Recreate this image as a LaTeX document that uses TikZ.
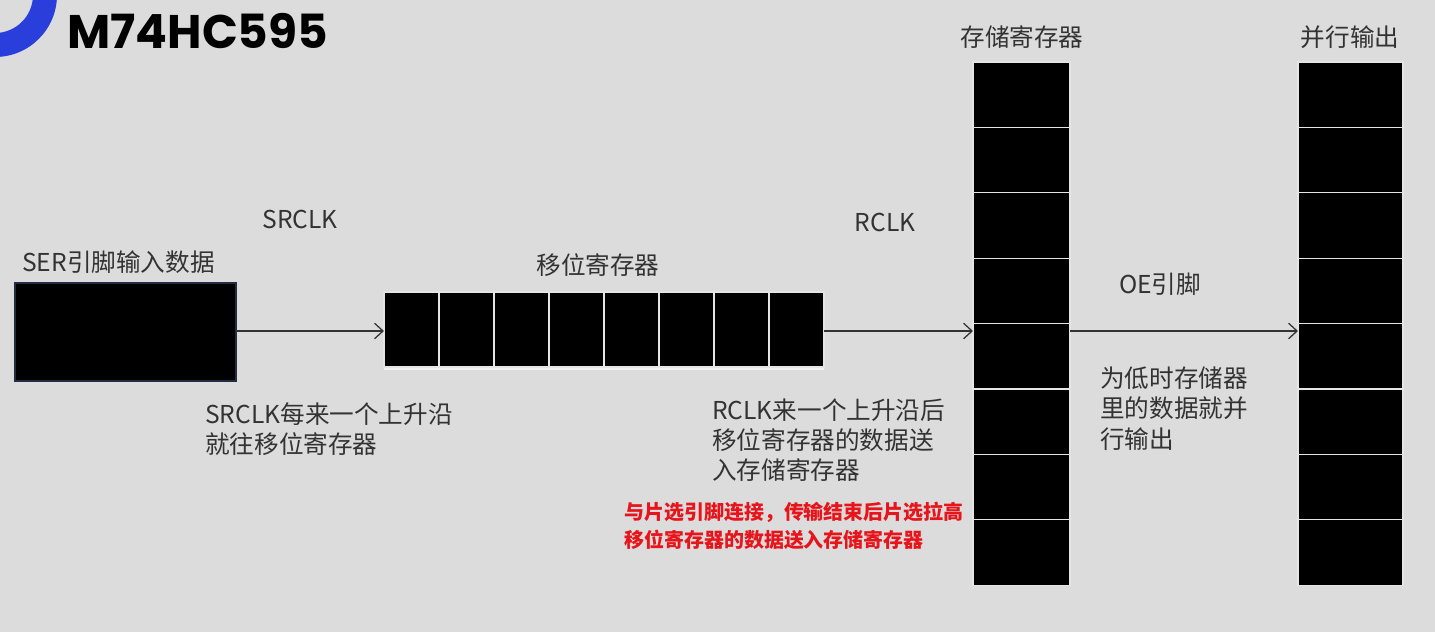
\documentclass[tikz,border=0pt]{standalone}
\usepackage{fontspec}
\setmainfont{Noto Sans CJK SC}
\newfontfamily\titlefont{Poppins}
\usepackage{xcolor}
\usetikzlibrary{arrows.meta,positioning}

\definecolor{bg}{RGB}{220,220,220}
\definecolor{ink}{RGB}{51,51,51}
\definecolor{ringblue}{RGB}{42,62,220}
\definecolor{notered}{RGB}{232,20,27}
\definecolor{slate}{RGB}{35,45,65}

\tikzset{
  txt/.style={inner sep=0pt, text=ink, font=\fontsize{17.5}{21.5}\selectfont, align=left},
  cell/.style={fill=black, draw=white!90!black, line width=0.8pt, inner sep=0pt, outer sep=0pt},
  frame/.style={fill=white!95!black, inner sep=0pt, outer sep=0pt},
  link/.style={draw=ink, line width=0.9pt, -{Straight Barb[length=6pt,width=11pt]}}
}

\begin{document}
\begin{tikzpicture}[x=0.025cm,y=-0.025cm]
\fill [bg] (0,0) rectangle (1435,632);
\useasboundingbox (0,0) rectangle (1435,632);
% logo ring
\begin{scope}
\clip (0,0) rectangle (1435,632);
\fill [ringblue, even odd rule] (-5,-5) circle [radius=62] (-5,-5) circle [radius=38];
\end{scope}
\node [anchor=west, inner sep=0pt] (title) at (67,31) {\titlefont\fontsize{33.5}{34}\selectfont\bfseries M74HC595};

% input data
\node [cell, draw=slate, minimum width=5.525cm, minimum height=2.45cm] (ser) at (125.5,332) {};
\node [txt, anchor=west] (serlbl) at (22,262) {SER引脚输入数据};

% shift register
\node [frame, minimum width=11cm, minimum height=1.95cm] (sreg) at (604,331) {};
\foreach \i in {1,...,8}
  \node [cell, minimum width=1.375cm, minimum height=1.875cm] (s\i) at ({384+27.5+55*(\i-1)},329.5) {};
\node [txt] (sreglbl) at (598,265) {移位寄存器};

% storage register
\node [frame, minimum width=2.425cm, minimum height=13.075cm] (store) at (1021.5,323.5) {};
\foreach \i in {1,...,8}
  \node [cell, minimum width=2.425cm, minimum height=1.635cm] (m\i) at (1021.5,{62+32.7+65.4*(\i-1)}) {};
\node [txt] (storelbl) at (1022,37) {存储寄存器};

% parallel output
\node [frame, minimum width=2.625cm, minimum height=13.075cm] (pout) at (1350.5,323.5) {};
\foreach \i in {1,...,8}
  \node [cell, minimum width=2.625cm, minimum height=1.635cm] (q\i) at (1350.5,{62+32.7+65.4*(\i-1)}) {};
\node [txt] (poutlbl) at (1350,37) {并行输出};

% connectors
\draw [link] (ser.east |- sreg.west) -- (sreg.west);
\draw [link] (sreg.east) -- (sreg.east -| store.west);
\draw [link] (sreg.east -| store.east) -- (sreg.east -| pout.west);

% clock and pin labels
\node [txt] (srclk) at (300,219) {SRCLK};
\node [txt] (rclk) at (885,222) {RCLK};
\node [txt] (oe) at (1160,284) {OE引脚};

% notes
\node [txt, anchor=west] (srnote) at (205,429) {SRCLK每来一个上升沿\\就往移位寄存器};
\node [txt, anchor=west] (rnote) at (712,440) {RCLK来一个上升沿后\\移位寄存器的数据送\\入存储寄存器};
\node [txt, anchor=west] (oenote) at (1100,408.5) {为低时存储器\\里的数据就并\\行输出};
\node [txt, anchor=west, text=notered, font=\fontsize{14.2}{19.9}\selectfont\bfseries] (csnote) at (624,526) {与片选引脚连接，传输结束后片选拉高\\移位寄存器的数据送入存储寄存器};
\end{tikzpicture}
\end{document}
